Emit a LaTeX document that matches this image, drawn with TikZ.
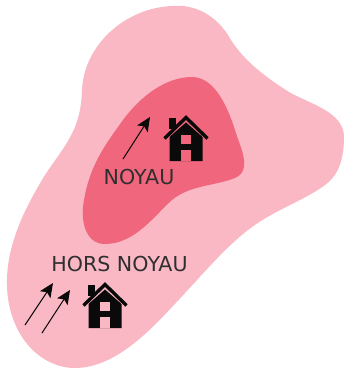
\documentclass[tikz,border=0pt]{standalone}
\usepackage{fontspec}
\setmainfont{DejaVu Sans}
\usetikzlibrary{arrows.meta}
\definecolor{outerpink}{HTML}{F9B8C4}
\definecolor{innerpink}{HTML}{F0667C}
\definecolor{ink}{HTML}{0A0A0A}
\tikzset{
  zonelabel/.style={font=\fontsize{20.6}{24}\selectfont,text=ink!85,inner sep=0pt,anchor=center},
  flow/.style={draw=ink,line width=1pt,-{Stealth[length=14pt,width=12.5pt,inset=3pt]}},
  housepic/.pic={
    \fill[ink] (-16.5,0) -- (16.5,0) -- (16.5,-24) -- (0,-38.5) -- (-16.5,-24) -- cycle;
    \fill[ink] (-17,-43) rectangle (-10,-32);
    \draw[ink,line width=3.4pt,line join=miter,line cap=butt] (-21.5,-22.5) -- (0,-43.5) -- (21.5,-22.5);
    \fill[#1] (-5,-26) rectangle (5,-17);
    \fill[#1] (-5,-11) rectangle (5,0);
  }
}
\begin{document}
\begin{tikzpicture}[x=1pt,y=-1pt]
\useasboundingbox (0,0) rectangle (344,370);
\fill[white] (0,0) rectangle (344,370);
\fill[outerpink] (172,6)
  .. controls (195,4) and (215,15) .. (228,35)
  .. controls (240,57) and (262,75) .. (289,92)
  .. controls (310,104) and (344,112) .. (344,137)
  .. controls (344,165) and (335,178) .. (325,185)
  .. controls (305,200) and (275,210) .. (252,227)
  .. controls (225,247) and (205,272) .. (172,307)
  .. controls (145,336) and (112,368) .. (75,368)
  .. controls (40,368) and (8,335) .. (7,285)
  .. controls (6,245) and (25,208) .. (45,175)
  .. controls (65,145) and (81,130) .. (82,90)
  .. controls (84,45) and (125,8) .. (172,6) -- cycle;
\fill[innerpink] (192,77)
  .. controls (215,77) and (228,108) .. (235,130)
  .. controls (240,147) and (253,170) .. (235,178)
  .. controls (215,186) and (190,185) .. (172,200)
  .. controls (155,215) and (135,244) .. (105,244)
  .. controls (85,244) and (80,220) .. (84,200)
  .. controls (90,165) and (105,145) .. (123,120)
  .. controls (140,97) and (165,77) .. (192,77) -- cycle;
\path (186,161) pic {housepic=innerpink};
\path (105,328) pic {housepic=outerpink};
\node[zonelabel] (noyau) at (139,177) {NOYAU};
\node[zonelabel] (hors) at (119.5,264) {HORS NOYAU};
\coordinate (a1s) at (123,159); \coordinate (a1e) at (150,117);
\coordinate (a2s) at (25,325);  \coordinate (a2e) at (53,283);
\coordinate (a3s) at (42,333);  \coordinate (a3e) at (70,290);
\draw[flow] (a1s) -- (a1e);
\draw[flow] (a2s) -- (a2e);
\draw[flow] (a3s) -- (a3e);
\end{tikzpicture}
\end{document}
